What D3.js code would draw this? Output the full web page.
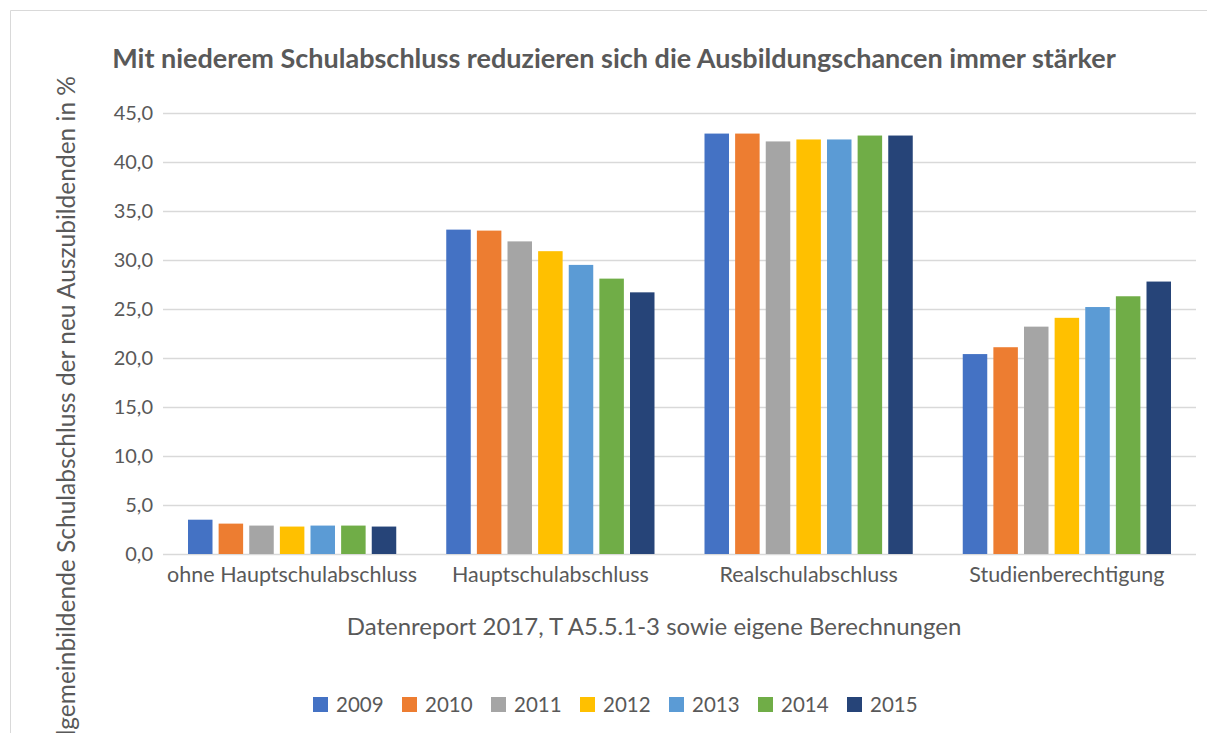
<!DOCTYPE html>
<html>
<head>
<meta charset="utf-8">
<script src="https://cdn.jsdelivr.net/npm/d3@7"></script>
<style>
  body { margin: 0; background: #fff; }
  svg { font-family: Lato, "Open Sans", sans-serif; }
</style>
</head>
<body>
<div id="chart"></div>
<script>
// data
var categories = ["ohne Hauptschulabschluss", "Hauptschulabschluss", "Realschulabschluss", "Studienberechtigung"];
var years = ["2009", "2010", "2011", "2012", "2013", "2014", "2015"];
var v2009 = [3.5, 33.1, 42.9, 20.4];
var v2010 = [3.1, 33.0, 42.9, 21.1];
var v2011 = [2.9, 31.9, 42.1, 23.2];
var v2012 = [2.8, 30.9, 42.3, 24.1];
var v2013 = [2.9, 29.5, 42.3, 25.2];
var v2014 = [2.9, 28.1, 42.7, 26.3];
var v2015 = [2.8, 26.7, 42.7, 27.8];
var yTicks = [0, 5, 10, 15, 20, 25, 30, 35, 40, 45];
var colors = ["#4472C4", "#ED7D31", "#A5A5A5", "#FFC000", "#5B9BD5", "#70AD47", "#264478"];

var series = [v2009, v2010, v2011, v2012, v2013, v2014, v2015];
var data = categories.map(function (c, i) {
    return { cat: c, values: years.map(function (y, j) { return { year: y, value: series[j][i] }; }) };
});

var W = 1207, H = 733;
var margin = { left: 163, right: 11, top: 113, bottom: 179 };
var w = W - margin.left - margin.right;
var h = H - margin.top - margin.bottom;
var textColor = "#595959";

var svg = d3.select("#chart").append("svg")
    .attr("width", W)
    .attr("height", H);

// chart border (only top and left visible)
svg.append("line").attr("x1", 10.5).attr("x2", 10.5).attr("y1", 10.5).attr("y2", H)
    .attr("stroke", "#d9d9d9");
svg.append("line").attr("x1", 10.5).attr("x2", W).attr("y1", 10.5).attr("y2", 10.5)
    .attr("stroke", "#d9d9d9");

// title
svg.append("text")
    .attr("x", 614)
    .attr("y", 68)
    .attr("text-anchor", "middle")
    .attr("font-size", 27)
    .attr("font-weight", "bold")
    .attr("fill", textColor)
    .text("Mit niederem Schulabschluss reduzieren sich die Ausbildungschancen immer stärker");

var g = svg.append("g")
    .attr("transform", "translate(" + margin.left + "," + margin.top + ")");

var x0 = d3.scaleBand().domain(categories).range([0, w]).padding(0);
var x1 = d3.scaleBand().domain(years).range([25, x0.bandwidth() - 25]).paddingInner(0.2);
var y = d3.scaleLinear().domain([0, 45]).range([h, 0]);

// gridlines + y labels
var yAxis = d3.axisLeft(y)
    .tickValues(yTicks)
    .tickSize(-w)
    .tickPadding(10)
    .tickFormat(function (d) { return d3.format(".1f")(d).replace(".", ","); });

var yAxisGroup = g.append("g").attr("class", "y axis").call(yAxis);
yAxisGroup.select(".domain").remove();
yAxisGroup.selectAll("line").attr("stroke", "#d9d9d9").attr("stroke-width", 1.5);
yAxisGroup.selectAll("text")
    .attr("font-size", 20)
    .attr("fill", textColor)
    .attr("font-family", "Lato, sans-serif");

// bars
var groups = g.selectAll(".grp")
    .data(data)
    .enter()
    .append("g")
    .attr("class", "grp")
    .attr("transform", function (d) { return "translate(" + x0(d.cat) + ",0)"; });

groups.selectAll("rect")
    .data(function (d) { return d.values; })
    .enter()
    .append("rect")
    .attr("x", function (d) { return x1(d.year); })
    .attr("y", function (d) { return y(d.value); })
    .attr("width", x1.bandwidth())
    .attr("height", function (d) { return h - y(d.value); })
    .attr("fill", function (d, i) { return colors[i]; });

// x axis labels
var xAxis = d3.axisBottom(x0).tickSize(0).tickPadding(13);
var xAxisGroup = g.append("g")
    .attr("class", "x axis")
    .attr("transform", "translate(0," + h + ")")
    .call(xAxis);
xAxisGroup.select(".domain").remove();
xAxisGroup.selectAll("text")
    .attr("font-size", 21.5)
    .attr("fill", textColor)
    .attr("font-family", "Lato, sans-serif");

// source line (x axis title)
svg.append("text")
    .attr("x", 654)
    .attr("y", 635)
    .attr("text-anchor", "middle")
    .attr("font-size", 24)
    .attr("fill", textColor)
    .text("Datenreport 2017, T A5.5.1-3 sowie eigene Berechnungen");

// y axis title
svg.append("text")
    .attr("transform", "translate(75,76) rotate(-90)")
    .attr("text-anchor", "end")
    .attr("font-size", 24.5)
    .attr("fill", textColor)
    .text("Allgemeinbildende Schulabschluss der neu Auszubildenden in %");

// legend
var legendX = d3.scaleBand().domain(years).range([313, 313 + 89 * 7]);
var legend = svg.selectAll(".legend")
    .data(years)
    .enter()
    .append("g")
    .attr("class", "legend")
    .attr("transform", function (d) { return "translate(" + legendX(d) + ",697)"; });

legend.append("rect")
    .attr("width", 15)
    .attr("height", 15)
    .attr("fill", function (d, i) { return colors[i]; });

legend.append("text")
    .attr("x", 23)
    .attr("y", 15)
    .attr("font-size", 20.5)
    .attr("fill", textColor)
    .text(function (d) { return d; });
</script>
</body>
</html>
